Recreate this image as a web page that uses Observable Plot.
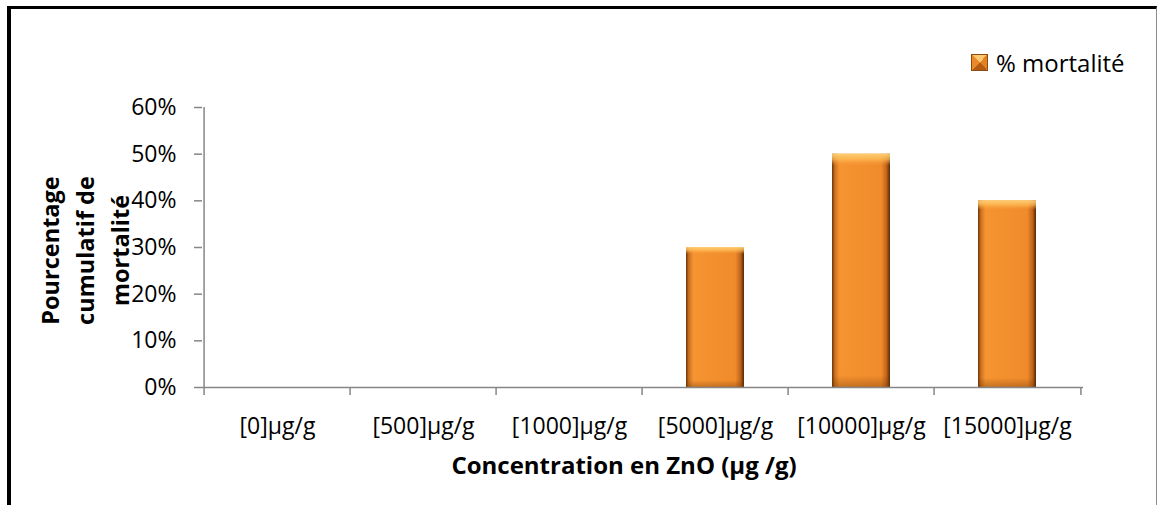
<!DOCTYPE html>
<html>
<head>
<meta charset="utf-8">
<script src="https://cdn.jsdelivr.net/npm/d3@7"></script>
<script src="https://cdn.jsdelivr.net/npm/@observablehq/plot@0.6"></script>
<style>
  body { margin: 0; background: #fff; }
  #chart { position: relative; width: 1160px; height: 505px; overflow: hidden; font-family: "Open Sans", sans-serif; }
  #frame { position: absolute; left: 7px; top: 6px; width: 1145px; height: 540px;
           border-top: 3px solid #000; border-left: 4px solid #000; border-right: 1px solid #8c8c8c; }
  #chart svg { position: absolute; left: 0; top: 0; }
  #legend { position: absolute; left: 971px; top: 46px; display: flex; align-items: center; gap: 8px;
            font-size: 24px; color: #000; }
  #legend .swatch { width: 15px; height: 15px; border: 1px solid #8a4a10;
            background: conic-gradient(from -45deg, #ffc870 0 25%, #e4801f 25% 50%, #b65c12 50% 75%, #e98a2a 75% 100%); }
</style>
</head>
<body>
<div id="chart">
  <div id="frame"></div>
  <div id="legend"><span class="swatch"></span><span>% mortalité</span></div>
</div>
<script>
// Concentration classes and cumulative mortality
const categories = ["[0]µg/g", "[500]µg/g", "[1000]µg/g", "[5000]µg/g", "[10000]µg/g", "[15000]µg/g"];
const mortality = [0, 0, 0, 0.30, 0.50, 0.40];
const yTicks = [0, 0.1, 0.2, 0.3, 0.4, 0.5, 0.6];
const xTitle = "Concentration en ZnO (µg /g)";
const yTitle = "Pourcentage\ncumulatif de\nmortalité";

const data = categories.map((c, i) => ({cat: c, value: mortality[i]}));

const W = 1160, H = 505;
const mL = 202, mR = 77, mT = 107, mB = 118;
const step = (W - mL - mR) / categories.length;
const axisGray = "#868686";

const plot = Plot.plot({
  width: W,
  height: H,
  marginLeft: mL,
  marginRight: mR,
  marginTop: mT,
  marginBottom: mB,
  style: {fontFamily: "Open Sans", fontSize: "23px", color: "#000", background: "transparent"},
  x: {domain: categories, paddingInner: 0.6, paddingOuter: 0.3, label: null},
  y: {domain: [0, 0.6], label: null},
  marks: [
    // bars: side-shaded body, then a top/bottom bevel overlay
    Plot.barY(data, {x: "cat", y: "value", fill: "url(#barBody)", filter: d => d.value > 0}),
    Plot.barY(data, {x: "cat", y: "value", fill: "url(#barBevel)", filter: d => d.value > 0}),
    // axis lines
    Plot.ruleY([0], {stroke: axisGray, strokeWidth: 1.5}),
    Plot.ruleX([categories[0]], {stroke: axisGray, strokeWidth: 1.5, dx: -step / 2}),
    // y axis ticks and labels
    Plot.axisY({ticks: yTicks, tickFormat: d3.format(".0%"), tickSize: 8, tickPadding: 18,
                stroke: axisGray, strokeWidth: 1.5, fontSize: 23, label: null}),
    // x ticks at the category boundaries
    Plot.axisX({tickSize: 8, text: null, stroke: axisGray, strokeWidth: 1.5, dx: -step / 2, label: null}),
    Plot.axisX({ticks: [categories[categories.length - 1]], tickSize: 8, text: null,
                stroke: axisGray, strokeWidth: 1.5, dx: step / 2, label: null}),
    // x category labels
    Plot.axisX({tickSize: 0, tickPadding: 30, fontSize: 23, label: null}),
    // axis titles
    Plot.text([xTitle], {frameAnchor: "bottom", text: d => d, dx: -19, dy: 86,
                         fontWeight: "bold", fontSize: 24}),
    Plot.text([yTitle], {frameAnchor: "left", text: d => d, rotate: -90, dx: -120, dy: 3,
                         textAnchor: "middle", lineAnchor: "middle",
                         fontWeight: "bold", fontSize: 23.5, lineHeight: 1.5})
  ]
});

d3.select(plot).insert("defs", ":first-child").html(`
  <linearGradient id="barBody" x1="0" y1="0" x2="1" y2="0">
    <stop offset="0" stop-color="#6a3308"/>
    <stop offset="0.05" stop-color="#cc721e"/>
    <stop offset="0.13" stop-color="#f69431"/>
    <stop offset="0.85" stop-color="#f08b2b"/>
    <stop offset="0.94" stop-color="#c0631a"/>
    <stop offset="1" stop-color="#552904"/>
  </linearGradient>
  <linearGradient id="barBevel" x1="0" y1="0" x2="0" y2="1">
    <stop offset="0" stop-color="#ffd27a" stop-opacity="0.95"/>
    <stop offset="0.025" stop-color="#ffbf5a" stop-opacity="0.7"/>
    <stop offset="0.05" stop-color="#ffa040" stop-opacity="0"/>
    <stop offset="0.95" stop-color="#6a3206" stop-opacity="0"/>
    <stop offset="1" stop-color="#6a3206" stop-opacity="0.35"/>
  </linearGradient>
`);

document.getElementById("chart").appendChild(plot);
</script>
</body>
</html>
